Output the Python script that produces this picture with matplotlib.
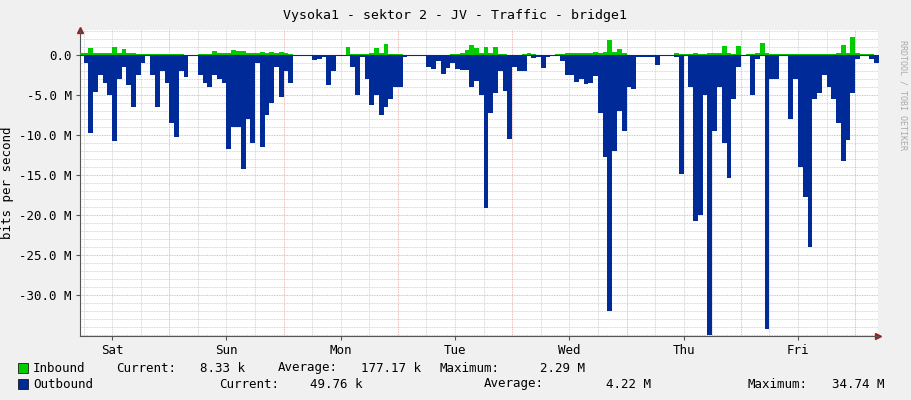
import matplotlib
matplotlib.use("Agg")
import matplotlib.pyplot as plt
import numpy as np

start_hour = 5
outbound = [0, -1, -9.8, -4.6, -2.5, -3.5, -5, -10.8, -3, -1.5, -3.8, -6.5, -2.5, -1, 0,
            -2.5, -6.5, -2, -3.5, -8.5, -10.2, -2, -2.8, 0, 0, -2.5, -3.5, -4, -2.5, -3,
            -3.5, -11.8, -9, -9, -14.3, -8, -11, -1, -11.5, -7.5, -6, -1.5, -5.2, -2, -3.5,
            -0.1, -0.1, -0.1, -0.1, -0.6, -0.5, -0.3, -3.8, -2, -0.1, -0.1,
            -0.1, -1.5, -5, -0.2, -3, -6.3, -5, -7.5, -6.5, -5.5, -4, -4, -0.2, -0.1, 0,
            -0.1, -0.1, -1.5, -1.8, -0.8, -2.4, -1.6, -1, -1.8, -1.9, -1.9, -4, -3.3, -5,
            -19.1, -7.2, -4.8, -2, -4.5, -10.5, -1.5, -2, -2, -0.1, -0.4, -0.3, -1.6, -0.3,
            0, 0, -0.8, -2.5, -2.5, -3.4, -3, -3.6, -3.5, -2.6, -7.3, -12.7,
            -32, -12, -7, -9.5, -4, -4.2, -0.3, -0.2, -0.2, -0.2, -1.2, 0, 0, 0, -0.2,
            -14.9, 0, -4, -20.8, -20, -5, -35, -9.5, -4, -11, -15.4, -5.5, -1.5, 0, 0, -5,
            -0.5, 0, -34.2, -3, -3, 0, 0, -8, -3, -14, -17.8, -24, -5.5, -4.8, -2.5, -4,
            -5.5, -8.5, -13.2, -10.6, -4.8, -0.5, -0.1, -0.1, -0.5, -1]
inbound = [0.2, 0.25, 0.9, 0.25, 0.2, 0.25, 0.25, 1.0, 0.25, 0.8, 0.25, 0.2, 0.15, 0.1, 0.1,
           0.1, 0.1, 0.1, 0.1, 0.1, 0.1, 0.1, 0.05, 0.05, 0.05, 0.1, 0.15, 0.15, 0.5, 0.2,
           0.2, 0.3, 0.6, 0.5, 0.5, 0.3, 0.2, 0.2, 0.4, 0.3, 0.4, 0.3, 0.4, 0.2, 0.15,
           0.03, 0.03, 0.03, 0.03, 0.03, 0.03, 0.03, 0.05, 0.03, 0.03, 0.03,
           1.0, 0.15, 0.15, 0.1, 0.15, 0.2, 0.9, 0.3, 1.4, 0.15, 0.15, 0.15, 0.05, 0.05, 0.05,
           0.05, 0.05, 0.05, 0.05, 0.05, 0.05, 0.05, 0.1, 0.15, 0.2, 0.6, 1.3, 0.9, 0.2,
           1.0, 0.2, 1.0, 0.15, 0.15, 0.05, 0.05, 0.05, 0.1, 0.2, 0.1, 0.05, 0.05, 0.05,
           0.05, 0.15, 0.15, 0.2, 0.2, 0.2, 0.2, 0.3, 0.3, 0.4, 0.3, 0.4,
           1.9, 0.4, 0.8, 0.2, 0.05, 0.05, 0.05, 0.05, 0.05, 0.05, 0.05, 0.05, 0.05, 0.05,
           0.2, 0.15, 0.15, 0.15, 0.2, 0.15, 0.15, 0.2, 0.3, 0.2, 1.1, 0.2, 0.15, 1.1, 0.05,
           0.1, 0.15, 0.3, 1.5, 0.2, 0.1, 0.1, 0.15, 0.15, 0.15, 0.15, 0.15, 0.15, 0.15, 0.15,
           0.15, 0.15, 0.15, 0.15, 0.2, 1.3, 0.2, 2.3, 0.2, 0.1, 0.1, 0.1]
day_labels = ["Sat", "Sun", "Mon", "Tue", "Wed", "Thu", "Fri"]
ytick_vals = [0, -5, -10, -15, -20, -25, -30]
ytick_labels = ["0.0", "-5.0 M", "-10.0 M", "-15.0 M", "-20.0 M", "-25.0 M", "-30.0 M"]

W, H = 911, 400
fig = plt.figure(figsize=(W / 100, H / 100), dpi=100, facecolor="#f0f0f0")
ax = fig.add_axes([80 / W, 1 - 336 / H, 798 / W, 306 / H])
ax.set_facecolor("white")
mono = "DejaVu Sans Mono"

def series(vals):
    v = np.array(vals + [vals[-1]], dtype=float)
    t = start_hour + np.arange(len(v), dtype=float)
    return t, v

xo, o = series(outbound)
xi, i_ = series(inbound)
ax.fill_between(xo, o, 0, step="post", color="#002A97", lw=0, zorder=3)
ax.fill_between(xi, i_, 0, step="post", color="#00CC00", lw=0, zorder=3)
ax.axhline(0, color="#002A97", lw=0.8, zorder=4)

ax.set_xlim(5.25, 172.8)
ax.set_ylim(-35.125, 3.125)

for v in range(-35, 4):
    c = "#e5a0a0" if v % 5 == 0 else "#c8c8c8"
    ax.axhline(v, color=c, lw=0.6, ls=(0, (1, 1)), zorder=1)
for hh in range(6, 173, 6):
    c = "#e5a0a0" if hh % 24 == 0 else "#c8c8c8"
    ax.axvline(hh, color=c, lw=0.6, ls=(0, (1, 1)), zorder=1)

ax.set_xticks([12 + 24 * k for k in range(7)])
ax.set_xticklabels(day_labels, fontfamily=mono, fontsize=9)
ax.set_yticks(ytick_vals)
ax.set_yticklabels(ytick_labels, fontfamily=mono, fontsize=9)
ax.tick_params(length=3, color="#555555", labelcolor="black", pad=3)
for s in ["top", "right"]:
    ax.spines[s].set_visible(False)
for s in ["left", "bottom"]:
    ax.spines[s].set_color("#555555")
ax.set_ylabel("bits per second", fontfamily=mono, fontsize=9)
ax.plot(1, 0, ">", transform=ax.transAxes, color="#a02020", ms=4, clip_on=False)
ax.plot(0, 1, "^", transform=ax.transAxes, color="#a02020", ms=4, clip_on=False)

fig.text(455 / W, 1 - 15 / H, "Vysoka1 - sektor 2 - JV - Traffic - bridge1",
         ha="center", va="center", fontfamily=mono, fontsize=9.5)
fig.text(903 / W, 1 - 95 / H, "RRDTOOL / TOBI OETIKER", rotation=270, ha="center",
         va="center", fontfamily=mono, fontsize=6, color="#aaaaaa")

def fy(y):
    return 1 - y / H

fig.patches.append(plt.Rectangle((18 / W, fy(373)), 10 / W, 10 / H, transform=fig.transFigure,
                                 facecolor="#00CC00", edgecolor="black", lw=0.5))
fig.patches.append(plt.Rectangle((18 / W, fy(389)), 10 / W, 10 / H, transform=fig.transFigure,
                                 facecolor="#002A97", edgecolor="black", lw=0.5))
fs = 9
legend_items = [
    (368, 33, "Inbound", "left"), (368, 116, "Current:", "left"), (368, 245, "8.33 k", "right"),
    (368, 278, "Average:", "left"), (368, 421, "177.17 k", "right"),
    (368, 440, "Maximum:", "left"), (368, 585, "2.29 M", "right"),
    (384, 33, "Outbound", "left"), (384, 219, "Current:", "left"), (384, 362, "49.76 k", "right"),
    (384, 484, "Average:", "left"), (384, 651, "4.22 M", "right"),
    (384, 748, "Maximum:", "left"), (384, 884, "34.74 M", "right"),
]
for y, xx, txt, ha in legend_items:
    fig.text(xx / W, fy(y), txt, va="center", ha=ha, fontfamily=mono, fontsize=fs)

fig.savefig("out.png", dpi=100, facecolor=fig.get_facecolor())
